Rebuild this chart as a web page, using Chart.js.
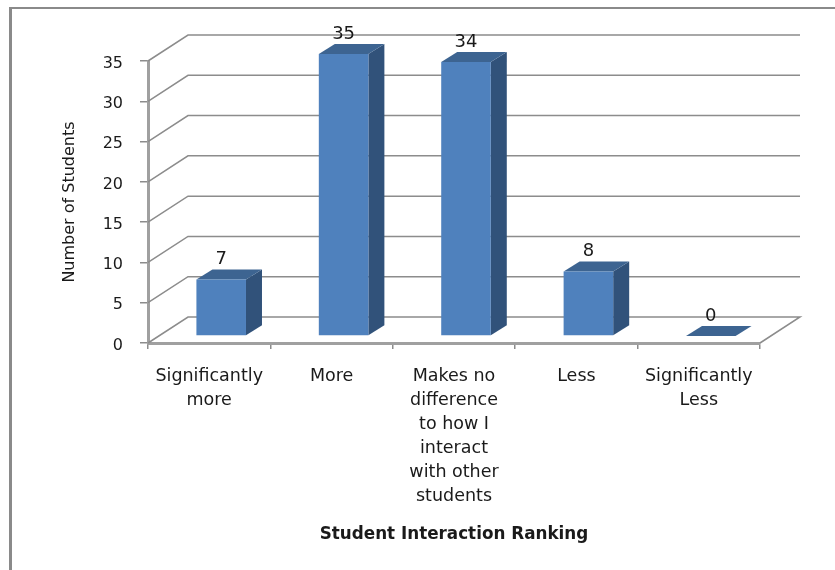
<!DOCTYPE html>
<html>
<head>
<meta charset="utf-8">
<title>Student Interaction Ranking</title>
<script src="https://cdn.jsdelivr.net/npm/chart.js@4"></script>
<style>
  html, body { margin: 0; padding: 0; background: #fff; overflow: hidden; }
  #wrap { position: relative; width: 835px; height: 570px; }
  #frame { position: absolute; left: 9px; top: 7px; width: 900px; height: 600px; border: solid #8a8a8a; border-width: 2px 0 0 3px; }
  canvas { position: absolute; left: 0; top: 0; }
</style>
</head>
<body>
<div id="wrap">
  <div id="frame"></div>
  <canvas id="chart" width="835" height="570"></canvas>
</div>
<script>
const categories = [
  ["Significantly", "more"],
  "More",
  ["Makes no", "difference", "to how I", "interact", "with other", "students"],
  "Less",
  ["Significantly", "Less"]
];
const students = [7, 35, 34, 8, 0];
const yTicks = [0, 5, 10, 15, 20, 25, 30, 35];

const FONT = "'DejaVu Sans', sans-serif";
const TEXT = "#1a1a1a";

// 3D look: wall sits back from the axes, bars stand on the floor between them
const WALL = { x: 40, y: -26 };
const FRONT = { x: 12, y: -7 };
const DEPTH = { x: 16, y: -10 };

function poly(ctx, pts, fill) {
  ctx.beginPath();
  pts.forEach((p, i) => i ? ctx.lineTo(p[0], p[1]) : ctx.moveTo(p[0], p[1]));
  ctx.closePath();
  ctx.fillStyle = fill;
  ctx.fill();
}

const wallPlugin = {
  id: "wall",
  beforeDatasetsDraw(chart) {
    const { ctx, chartArea: a, scales: { y } } = chart;
    ctx.save();
    ctx.strokeStyle = "#8c8c8c";
    ctx.lineWidth = 1.5;
    yTicks.forEach(v => {
      const py = y.getPixelForValue(v);
      ctx.beginPath();
      ctx.moveTo(a.left, py);
      ctx.lineTo(a.left + WALL.x, py + WALL.y);
      ctx.lineTo(a.right + WALL.x, py + WALL.y);
      if (v === 0) ctx.lineTo(a.right, py);
      ctx.stroke();
    });
    ctx.restore();
  },
  beforeDatasetDraw(chart) {
    const ctx = chart.ctx;
    ctx.save();
    ctx.translate(FRONT.x, FRONT.y);
    // side and top faces behind the library's front face
    chart.getDatasetMeta(0).data.forEach((bar, i) => {
      const half = bar.width / 2;
      const l = bar.x - half, r = bar.x + half, t = bar.y, b = bar.base;
      if (students[i] > 0) {
        poly(ctx, [[r, t], [r + DEPTH.x, t + DEPTH.y], [r + DEPTH.x, b + DEPTH.y], [r, b]], "#31527a");
      }
      poly(ctx, [[l, t], [r, t], [r + DEPTH.x, t + DEPTH.y], [l + DEPTH.x, t + DEPTH.y]], "#3d6491");
    });
  },
  afterDatasetDraw(chart) {
    chart.ctx.restore();
  },
  afterDatasetsDraw(chart) {
    const ctx = chart.ctx;
    ctx.save();
    ctx.fillStyle = TEXT;
    ctx.font = "18px " + FONT;
    ctx.textAlign = "center";
    ctx.textBaseline = "middle";
    chart.getDatasetMeta(0).data.forEach((bar, i) => {
      ctx.fillText(students[i], bar.x + FRONT.x, bar.y + FRONT.y - 20);
    });
    ctx.restore();
  }
};

new Chart(document.getElementById("chart"), {
  type: "bar",
  data: {
    labels: categories,
    datasets: [{
      label: "Number of Students",
      data: students,
      backgroundColor: "#4f81bd",
      borderWidth: 0,
      barPercentage: 0.405,
      categoryPercentage: 1
    }]
  },
  options: {
    responsive: false,
    animation: false,
    layout: { padding: { left: 0, right: 75, top: 61, bottom: 0 } },
    plugins: { legend: { display: false }, tooltip: { enabled: false } },
    scales: {
      x: {
        afterFit(scale) { scale.height = 227; },
        grid: { drawOnChartArea: false, color: "#8c8c8c", lineWidth: 1.5, tickLength: 6 },
        border: { color: "#a0a0a0", width: 3 },
        ticks: { color: TEXT, font: { family: FONT, size: 17.5, lineHeight: 1.38 }, maxRotation: 0, autoSkip: false, padding: 15 },
        title: { display: true, text: "Student Interaction Ranking", color: TEXT, font: { family: FONT, size: 16.8, weight: "bold" }, padding: { top: 0, bottom: 25 } }
      },
      y: {
        afterFit(scale) { scale.width = 148; },
        min: 0,
        max: 35,
        grid: { drawOnChartArea: false, color: "#8c8c8c", lineWidth: 1.5, tickLength: 8 },
        border: { color: "#a0a0a0", width: 3 },
        ticks: { color: TEXT, font: { family: FONT, size: 16 }, stepSize: 5, padding: 17, labelOffset: 2.5 },
        title: { display: true, text: "Number of Students", color: TEXT, font: { family: FONT, size: 16 }, padding: { top: 60, bottom: 0 } }
      }
    }
  },
  plugins: [wallPlugin]
});
</script>
</body>
</html>
